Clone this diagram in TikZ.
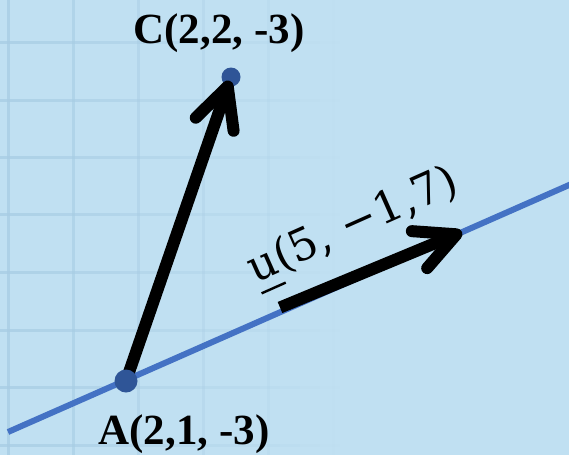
\documentclass[tikz,border=0pt]{standalone}
\usepackage{fontspec}
\newfontfamily\lserif{Liberation Serif}
\newfontfamily\dserif{DejaVu Serif}
\usetikzlibrary{arrows.meta}
\definecolor{bg}{HTML}{C0E0F2}
\definecolor{gridc}{HTML}{A8CDE4}
\definecolor{lineblue}{HTML}{4472C4}
\definecolor{dotblue}{HTML}{2F5597}
\newcommand{\ulu}{\makebox[0pt][l]{\hspace{0.04em}\rule[-0.3em]{0.6em}{0.055em}}u}
\begin{document}
\begin{tikzpicture}[x=1pt,y=-1pt,
  vec/.style={line width=12pt,-{Straight Barb[round,length=40pt,width=40pt]}},
  gridline/.style={gridc,line width=3pt},
  dot/.style={circle,fill=dotblue,inner sep=0pt},
  ptlabel/.style={font=\lserif\bfseries\fontsize{43}{45}\selectfont,inner sep=0pt},
  veclabel/.style={font=\dserif\fontsize{44}{48}\selectfont,inner sep=0pt}]
\useasboundingbox (0,0) rectangle (569,455);
\clip (0,0) rectangle (569,455);
\fill[bg] (0,0) rectangle (569,455);
% fading grid
\foreach \x in {8,73,...,528} {
  \pgfmathsetmacro\op{max(0,0.8-\x/430)}
  \draw[gridline,opacity=\op] (\x,0) -- (\x,455);
}
\foreach \y in {-15,42,100,157,214,272,330,387,445} {
  \foreach \x in {0,20,...,560} {
    \pgfmathsetmacro\op{max(0,0.8-(\x+10)/430)}
    \draw[gridline,opacity=\op] (\x,\y) -- (\x+20,\y);
  }
}
% points
\coordinate (A) at (126,381);
\coordinate (C) at (231,77);
\coordinate (L1) at (8,432);
\coordinate (L2) at (580,180.2);
\coordinate (U1) at (280,307.5);
\coordinate (U2) at (462,232);
\node[dot,minimum size=19pt] (Cdot) at (C) {};
\draw[lineblue,line width=6pt] (L1) -- (L2);
\draw[vec,shorten >=4pt] (A) -- (C);
\node[dot,minimum size=23pt] (Adot) at (A) {};
\draw[vec] (U1) -- (U2);
% labels
\node[ptlabel] (Clab) at (219,33) {C(2,2, -3)};
\node[ptlabel] (Alab) at (184,434) {A(2,1, -3)};
\node[veclabel,rotate=24] (ulab) at (354,228) {\ulu(5, −1,7)};
\end{tikzpicture}
\end{document}
